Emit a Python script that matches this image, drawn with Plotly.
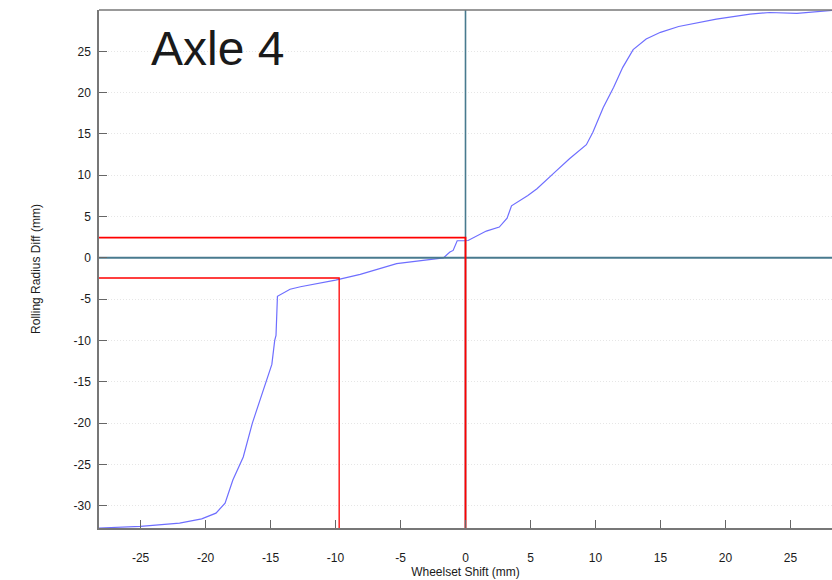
import plotly.graph_objects as go

# Rolling radius difference vs. lateral wheelset shift for axle 4
shift_mm = [-28.2, -25.0, -22.0, -20.3, -19.2, -18.5, -17.9, -17.1, -16.4, -15.8,
            -15.3, -14.9, -14.68, -14.58, -14.47, -13.5, -12.7, -10.0, -8.1, -5.3,
            -1.7, -1.2, -0.95, -0.64, -0.1, 0.2, 1.6, 2.6, 3.2, 3.54,
            4.8, 5.5, 6.9, 8.0, 9.3, 9.8, 10.6, 11.4, 12.1, 12.9,
            13.9, 15.0, 16.4, 17.3, 19.3, 21.9, 23.4, 25.5, 27.0, 28.2]
radius_diff_mm = [-32.7, -32.5, -32.1, -31.6, -30.9, -29.7, -26.9, -24.1, -20.0, -17.2,
                  -14.8, -12.9, -10.0, -9.4, -4.65, -3.8, -3.5, -2.7, -2.0, -0.7,
                  0.0, 0.7, 0.9, 2.07, 2.07, 2.1, 3.24, 3.73, 4.8, 6.3,
                  7.55, 8.36, 10.4, 12.0, 13.7, 15.2, 18.2, 20.65, 23.06, 25.2,
                  26.5, 27.3, 28.0, 28.3, 28.9, 29.5, 29.7, 29.6, 29.8, 29.95]

x_ticks = [-25, -20, -15, -10, -5, 0, 5, 10, 15, 20, 25]
y_ticks = [-30, -25, -20, -15, -10, -5, 0, 5, 10, 15, 20, 25]
x_tick_labels = ["-25", "-20", "-15", "-10", "-5", "0", "5", "10", "15", "20", "25"]
y_tick_labels = ["-30", "-25", "-20", "-15", "-10", "-5", "0", "5", "10", "15", "20", "25"]

x_range = [-28.2, 28.2]
y_range = [-32.7, 30.0]

# Reference markers: radius difference level and the shift where it is reached
diff_level = 2.44
shift_at_neg_level = -9.72

fig = go.Figure()

fig.add_trace(go.Scatter(x=shift_mm, y=radius_diff_mm, mode="lines",
                         line=dict(color="rgb(110,110,255)", width=1.2),
                         hoverinfo="skip"))

# Zero cross-hair
teal = "rgb(72,122,142)"
fig.add_trace(go.Scatter(x=x_range, y=[0, 0], mode="lines",
                         line=dict(color=teal, width=2), hoverinfo="skip"))
fig.add_trace(go.Scatter(x=[0, 0], y=y_range, mode="lines",
                         line=dict(color=teal, width=1.6), hoverinfo="skip"))

# Red guide lines
fig.add_trace(go.Scatter(x=[x_range[0], 0, 0], y=[diff_level, diff_level, y_range[0]],
                         mode="lines", line=dict(color="red", width=1.8),
                         hoverinfo="skip"))
fig.add_trace(go.Scatter(x=[x_range[0], shift_at_neg_level, shift_at_neg_level],
                         y=[-diff_level, -diff_level, y_range[0]],
                         mode="lines", line=dict(color="red", width=1.3),
                         hoverinfo="skip"))

axis_font = dict(family="Liberation Sans, Arial, sans-serif", size=12, color="#1a1a1a")

fig.update_layout(
    width=832, height=580,
    margin=dict(l=99, r=0, t=10, b=52),
    paper_bgcolor="white", plot_bgcolor="white",
    showlegend=False,
    font=axis_font,
    xaxis=dict(range=x_range, tickvals=x_ticks, ticktext=x_tick_labels,
               ticks="inside", ticklen=8,
               tickwidth=1.3, tickcolor="#666", showgrid=False, zeroline=False,
               showline=True, linecolor="#777", linewidth=1.5,
               ticklabelstandoff=18, tickfont=axis_font,
               title=dict(text="Wheelset Shift (mm)", font=axis_font, standoff=0)),
    yaxis=dict(range=y_range, tickvals=y_ticks, ticktext=y_tick_labels,
               ticks="inside", ticklen=8,
               tickwidth=1.3, tickcolor="#666", showgrid=True,
               gridcolor="#e6e6e6", griddash="1px,2px", gridwidth=1, zeroline=False,
               showline=True, linecolor="#777", linewidth=1.5,
               ticklabelstandoff=4, tickfont=axis_font,
               title=dict(text="Rolling Radius Diff (mm)", font=axis_font, standoff=30)),
    shapes=[dict(type="line", xref="paper", yref="paper", x0=0, x1=1, y0=1, y1=1,
                 line=dict(color="#777", width=1.5))],
    annotations=[dict(text="Axle 4", xref="paper", yref="paper", x=0.068, y=0.98,
                      xanchor="left", yanchor="top", showarrow=False,
                      font=dict(family="Liberation Sans, Arial, sans-serif",
                                size=48, color="#1a1a1a"))],
)

fig.write_html("out.html")
